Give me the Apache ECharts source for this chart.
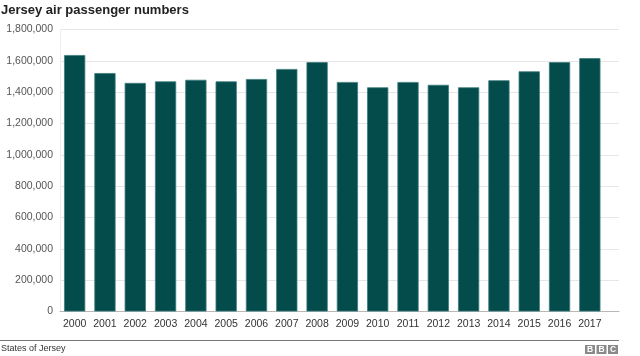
<!DOCTYPE html>
<html><head><meta charset="utf-8">
<script src="https://cdn.jsdelivr.net/npm/echarts@6/dist/echarts.min.js"></script>
<style>html,body{margin:0;padding:0;background:#fff}#c{width:640px;height:356px}</style>
</head><body><div id="c"></div>
<script>
const years = ['2000','2001','2002','2003','2004','2005','2006','2007','2008','2009','2010','2011','2012','2013','2014','2015','2016','2017'];
const passengers = [1637000,1522000,1459000,1469000,1479000,1469000,1484000,1548000,1592000,1465000,1431000,1465000,1447000,1431000,1476000,1533000,1592000,1617000];
const yTicks = [0,200000,400000,600000,800000,1000000,1200000,1400000,1600000,1800000];
const titleText = 'Jersey air passenger numbers';
const sourceText = 'States of Jersey';

const chart = echarts.init(document.getElementById('c'), null, {renderer:'canvas'});
const fmt = v => v.toLocaleString('en-GB');
const gTop = 29.5, gBottom = 356 - 311.5;
const FF = 'Liberation Sans, Arial, sans-serif';
chart.setOption({
  animation:false,
  textStyle:{fontFamily:FF},
  title:{text:titleText,left:1,top:3.5,padding:0,textStyle:{fontSize:13,fontWeight:'bold',color:'#222',fontFamily:FF}},
  grid:[
    {left:60,right:21,top:gTop,bottom:gBottom,containLabel:false},
    {left:59.5,right:35,top:gTop,bottom:gBottom,containLabel:false}
  ],
  xAxis:[
    {gridIndex:0,type:'value',min:0,max:1,show:true,axisLabel:{show:false},axisTick:{show:false},splitLine:{show:false},
     axisLine:{show:true,lineStyle:{color:'#b8b8b8',width:1}}},
    {gridIndex:1,type:'category',data:years,axisLine:{show:false},axisTick:{show:false},
     axisLabel:{color:'#333',fontSize:10.5,margin:7,interval:0}}
  ],
  yAxis:[
    {gridIndex:0,type:'value',min:yTicks[0],max:yTicks[yTicks.length-1],interval:yTicks[1]-yTicks[0],
     axisLabel:{color:'#555',fontSize:10.5,margin:7,formatter:v=>fmt(v)},
     axisLine:{show:true,lineStyle:{color:'#eeeeee'}},axisTick:{show:false},
     splitLine:{lineStyle:{color:'#e6e6e6',width:1}}},
    {gridIndex:1,type:'value',min:yTicks[0],max:yTicks[yTicks.length-1],show:false,splitLine:{show:false}}
  ],
  series:[{
    type:'bar',xAxisIndex:1,yAxisIndex:1,data:passengers,barWidth:'70%',
    itemStyle:{color:'#044b4b',borderColor:'#3e7c7c',borderWidth:0.8}
  }],
  graphic:[
    {type:'line',shape:{x1:0,y1:340.5,x2:619,y2:340.5},style:{stroke:'#777',lineWidth:1.2}},
    {type:'text',left:1,top:344.5,style:{text:sourceText,fontSize:9,fill:'#333',fontFamily:FF}},
    {type:'group',left:585,top:345,children:[
      {type:'rect',shape:{x:0,y:0,width:10,height:9},style:{fill:'#8a8a8a'}},
      {type:'rect',shape:{x:11.5,y:0,width:10,height:9},style:{fill:'#8a8a8a'}},
      {type:'rect',shape:{x:23,y:0,width:10,height:9},style:{fill:'#8a8a8a'}},
      {type:'text',x:5,y:4.8,style:{text:'B',fill:'#fff',fontSize:8.5,fontWeight:'bold',align:'center',verticalAlign:'middle'}},
      {type:'text',x:16.5,y:4.8,style:{text:'B',fill:'#fff',fontSize:8.5,fontWeight:'bold',align:'center',verticalAlign:'middle'}},
      {type:'text',x:28,y:4.8,style:{text:'C',fill:'#fff',fontSize:8.5,fontWeight:'bold',align:'center',verticalAlign:'middle'}}
    ]}
  ]
});
</script></body></html>
